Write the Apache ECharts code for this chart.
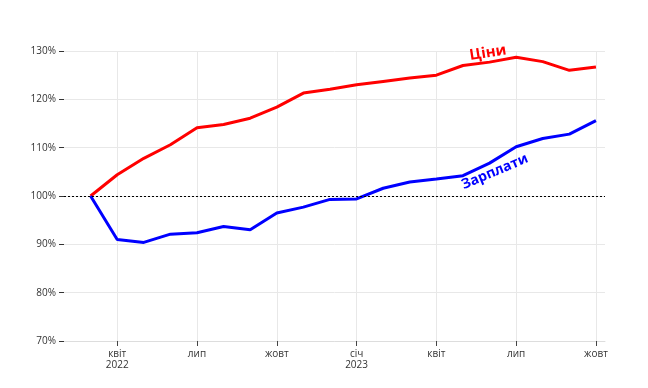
<!DOCTYPE html>
<html><head><meta charset="utf-8">
<script src="https://cdn.jsdelivr.net/npm/echarts@6/dist/echarts.min.js"></script>
<style>html,body{margin:0;padding:0;background:#fff}#c{width:648px;height:388px}</style>
</head><body><div id="c"></div>
<script>
// month index: Apr 2022 = 0
const months = [-1,0,1,2,3,4,5,6,7,8,9,10,11,12,13,14,15,16,17,18];
const prices = [100,104.4,107.8,110.6,114.1,114.8,116.1,118.4,121.3,122.1,123.0,123.7,124.4,125.0,127.0,127.7,128.7,127.8,126.0,126.7];
const wages  = [100,91.0,90.4,92.1,92.4,93.7,93.0,96.5,97.7,99.3,99.4,101.6,102.9,103.5,104.2,106.8,110.2,111.9,112.8,115.6];
const tickMonths = [0,3,6,9,12,15,18];
const tickLabels = ['квіт\n2022','лип','жовт','січ\n2023','квіт','лип','жовт'];
const yTicks = [70,80,90,100,110,120,130];

const font = '"Open Sans", "Noto Sans", sans-serif';
const lbl = (text, coord, rot, color, size) => ({coord, symbol:'circle', symbolSize:1,
  itemStyle:{color:'rgba(0,0,0,0)'},
  label:{show:true, formatter:text, rotate:rot, position:'inside', color,
    fontSize:size, fontWeight:'bold', fontFamily:font}});
const chart = echarts.init(document.getElementById('c'));
chart.setOption({
  animation:false,
  grid:{left:64,right:43,top:51,bottom:47},
  xAxis:{type:'value',min:-2,max:18.34,
    axisLine:{show:true,onZero:false,lineStyle:{color:'#ddd',width:1}},
    axisTick:{show:true,customValues:tickMonths,length:5,lineStyle:{color:'#444'}},
    axisLabel:{customValues:tickMonths,color:'#333',fontSize:10,fontFamily:font,lineHeight:11,margin:8,
      formatter:v=>tickLabels[tickMonths.indexOf(v)]},
    splitLine:{show:true,lineStyle:{color:'#e8e8e8'}}},
  yAxis:{type:'value',min:yTicks[0],max:yTicks[yTicks.length-1],interval:10,
    axisLine:{show:false,onZero:false},
    axisTick:{show:true,length:5,lineStyle:{color:'#333'}},
    axisLabel:{color:'#333',fontSize:10,fontFamily:font,margin:8,formatter:'{value}%'},
    splitLine:{show:true,lineStyle:{color:'#e8e8e8'}}},
  series:[
    {type:'line',data:months.map((m,i)=>[m,prices[i]]),showSymbol:false,
     lineStyle:{color:'#ff0000',width:3},itemStyle:{color:'#ff0000'},
     markPoint:{silent:true,data:[lbl('Ціни',[13.94,129.6],9,'#ff0000',15)]}},
    {type:'line',data:months.map((m,i)=>[m,wages[i]]),showSymbol:false,
     lineStyle:{color:'#0000ff',width:3},itemStyle:{color:'#0000ff'},
     markLine:{symbol:'none',silent:true,label:{show:false},
       lineStyle:{color:'#000',type:[2,2],width:1},data:[{yAxis:100}]},
     markPoint:{silent:true,data:[lbl('Зарплати',[14.2,105.0],23,'#0000ff',14)]}}
  ]
});
</script></body></html>
